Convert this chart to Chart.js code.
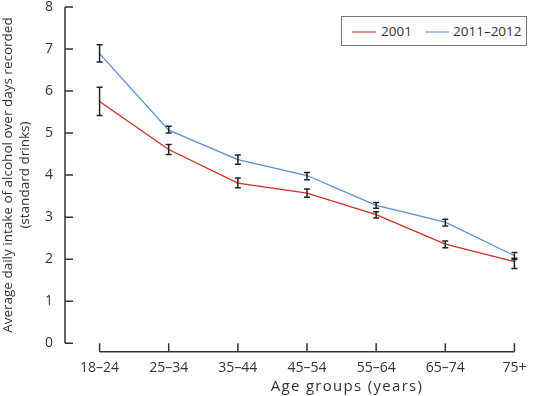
<!DOCTYPE html>
<html>
<head>
<meta charset="utf-8">
<script src="https://cdn.jsdelivr.net/npm/chart.js@4/dist/chart.umd.min.js"></script>
<style>
  body { margin: 0; background: #fff; }
  #wrap { position: relative; width: 555px; height: 396px; }
  #legend {
    position: absolute; left: 341px; top: 16px; width: 184px; height: 28px;
    border: 1px solid #777; background: #fff;
    font-family: 'Open Sans', sans-serif; font-size: 13.5px; color: #333;
  }
  #legend .sw { position: absolute; top: 14px; width: 24px; height: 0; border-top: 2px solid; }
  #legend .tx { position: absolute; top: 4px; line-height: 20px; }
</style>
</head>
<body>
<div id="wrap">
  <canvas id="chart" width="555" height="396"></canvas>
  <div id="legend">
    <span class="sw" style="left:10px;border-color:#e39292"></span><span class="tx" style="left:39px">2001</span>
    <span class="sw" style="left:83px;border-color:#a9c2e2"></span><span class="tx" style="left:111px">2011–2012</span>
  </div>
</div>
<script>
var ageGroups = ['18–24', '25–34', '35–44', '45–54', '55–64', '65–74', '75+'];

var drinks2001 = [5.75, 4.61, 3.81, 3.57, 3.06, 2.36, 1.94];
var low2001    = [5.42, 4.49, 3.70, 3.47, 2.98, 2.27, 1.78];
var high2001   = [6.09, 4.73, 3.93, 3.67, 3.13, 2.43, 2.02];

var drinks2011 = [6.89, 5.07, 4.37, 3.99, 3.28, 2.88, 2.08];
var low2011    = [6.69, 5.00, 4.26, 3.89, 3.21, 2.79, 1.99];
var high2011   = [7.10, 5.16, 4.48, 4.06, 3.35, 2.95, 2.16];

var yTicks = [0, 1, 2, 3, 4, 5, 6, 7, 8];

var FONT = "'Open Sans', sans-serif";
var INK = '#333';

// axes are drawn by hand: y axis with inward ticks, x axis sitting a bit below zero
var axesPlugin = {
  id: 'axes',
  afterDraw: function(chart) {
    var ctx = chart.ctx, x = chart.scales.x, y = chart.scales.y;
    var left = chart.chartArea.left;
    ctx.save();
    ctx.strokeStyle = INK;
    ctx.lineWidth = 1.5;
    ctx.beginPath();
    ctx.moveTo(left, y.getPixelForValue(yTicks[yTicks.length - 1]));
    ctx.lineTo(left, y.getPixelForValue(0));
    yTicks.forEach(function(t) {
      var py = y.getPixelForValue(t);
      ctx.moveTo(left, py);
      ctx.lineTo(left + 8, py);
    });
    var base = y.getPixelForValue(0) + 8.5;
    ctx.moveTo(x.getPixelForValue(0), base);
    ctx.lineTo(x.getPixelForValue(ageGroups.length - 1), base);
    ageGroups.forEach(function(g, i) {
      var px = x.getPixelForValue(i);
      ctx.moveTo(px, base);
      ctx.lineTo(px, base - 8.5);
    });
    ctx.stroke();

    ctx.fillStyle = INK;
    ctx.font = '15px ' + FONT;
    ctx.letterSpacing = '1.3px';
    ctx.textAlign = 'center';
    ctx.textBaseline = 'middle';
    ctx.fillText('Age groups (years)', 347, 387);
    ctx.restore();
  }
};

var errorBars = {
  id: 'errorBars',
  afterDatasetsDraw: function(chart) {
    var ctx = chart.ctx, x = chart.scales.x, y = chart.scales.y;
    var sets = [[low2001, high2001], [low2011, high2011]];
    ctx.save();
    ctx.strokeStyle = '#222';
    ctx.lineWidth = 1.5;
    ctx.beginPath();
    sets.forEach(function(s) {
      s[0].forEach(function(lo, i) {
        var px = x.getPixelForValue(i);
        var yl = y.getPixelForValue(lo), yh = y.getPixelForValue(s[1][i]);
        ctx.moveTo(px, yl); ctx.lineTo(px, yh);
        ctx.moveTo(px - 3, yl); ctx.lineTo(px + 3, yl);
        ctx.moveTo(px - 3, yh); ctx.lineTo(px + 3, yh);
      });
    });
    ctx.stroke();
    ctx.restore();
  }
};

new Chart(document.getElementById('chart').getContext('2d'), {
  type: 'line',
  data: {
    labels: ageGroups,
    datasets: [{
      label: '2001',
      data: drinks2001,
      borderColor: '#d42a2a',
      borderWidth: 1.3,
      pointRadius: 0,
      tension: 0
    }, {
      label: '2011–2012',
      data: drinks2011,
      borderColor: '#5a8fd0',
      borderWidth: 1.3,
      pointRadius: 0,
      tension: 0
    }]
  },
  options: {
    responsive: false,
    animation: false,
    layout: { padding: { top: 0, right: 6, bottom: 4, left: 0 } },
    plugins: { legend: { display: false }, tooltip: { enabled: false } },
    scales: {
      x: {
        offset: true,
        grid: { display: false, drawTicks: false },
        border: { display: false },
        ticks: { padding: 16, maxRotation: 0, color: INK, font: { family: FONT, size: 14 } }
      },
      y: {
        min: 0,
        max: 8,
        afterFit: function(s) { s.width = 65; s.paddingTop = 7; s.paddingBottom = 0; },
        grid: { display: false, drawTicks: false },
        border: { display: false },
        ticks: { stepSize: 1, padding: 12, color: INK, font: { family: FONT, size: 14 } },
        title: {
          display: true,
          text: ['Average daily intake of alcohol over days recorded', '(standard drinks)'],
          color: INK,
          font: { family: FONT, size: 13.5, lineHeight: 1.25 },
          padding: { top: 0, bottom: 0 }
        }
      }
    }
  },
  plugins: [axesPlugin, errorBars]
});
</script>
</body>
</html>
